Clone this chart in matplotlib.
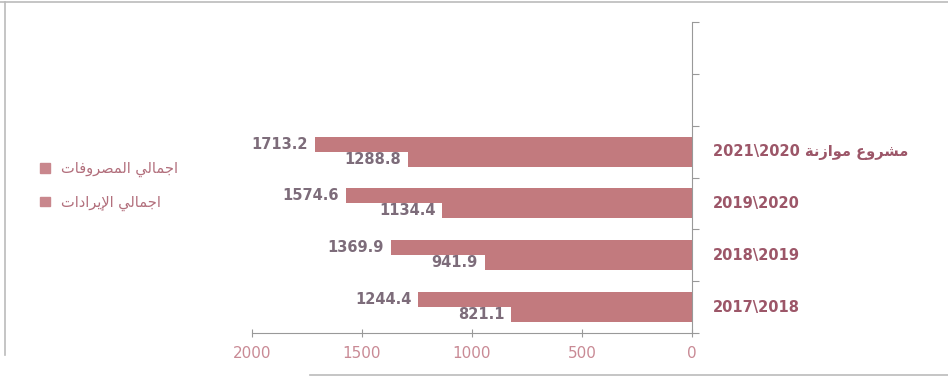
import matplotlib
matplotlib.use("Agg")
import matplotlib.pyplot as plt
from matplotlib.patches import Patch
from matplotlib.lines import Line2D
import numpy as np

# data
periods = ["2017\\2018", "2018\\2019", "2019\\2020", "2021\\2020"]
expenditures = [1244.4, 1369.9, 1574.6, 1713.2]
revenues = [821.1, 941.9, 1134.4, 1288.8]
budget_prefix = "مشروع موازنة"
legend_labels = ["اجمالي المصروفات", "اجمالي الإيرادات"]
xticks = [2000, 1500, 1000, 500, 0]

# very small arabic shaper (matplotlib does no shaping / bidi)
FORMS = {
    "ا": ("\uFE8D", "\uFE8E", None, None),
    "إ": ("\uFE87", "\uFE88", None, None),
    "ة": ("\uFE93", "\uFE94", None, None),
    "ت": ("\uFE95", "\uFE96", "\uFE97", "\uFE98"),
    "ج": ("\uFE9D", "\uFE9E", "\uFE9F", "\uFEA0"),
    "د": ("\uFEA9", "\uFEAA", None, None),
    "ر": ("\uFEAD", "\uFEAE", None, None),
    "ز": ("\uFEAF", "\uFEB0", None, None),
    "ش": ("\uFEB5", "\uFEB6", "\uFEB7", "\uFEB8"),
    "ص": ("\uFEB9", "\uFEBA", "\uFEBB", "\uFEBC"),
    "ع": ("\uFEC9", "\uFECA", "\uFECB", "\uFECC"),
    "ف": ("\uFED1", "\uFED2", "\uFED3", "\uFED4"),
    "ل": ("\uFEDD", "\uFEDE", "\uFEDF", "\uFEE0"),
    "م": ("\uFEE1", "\uFEE2", "\uFEE3", "\uFEE4"),
    "ن": ("\uFEE5", "\uFEE6", "\uFEE7", "\uFEE8"),
    "و": ("\uFEED", "\uFEEE", None, None),
    "ي": ("\uFEF1", "\uFEF2", "\uFEF3", "\uFEF4"),
}
LAM_ALEF = {"ا": ("\uFEFB", "\uFEFC"), "إ": ("\uFEF9", "\uFEFA")}


def shape(text):
    out = []
    i = 0
    n = len(text)
    while i < n:
        c = text[i]
        if c not in FORMS:
            out.append(c)
            i += 1
            continue
        prev = text[i - 1] if i > 0 else None
        joins_prev = prev in FORMS and FORMS[prev][2] is not None
        if c == "ل" and i + 1 < n and text[i + 1] in LAM_ALEF:
            iso, fin = LAM_ALEF[text[i + 1]]
            out.append(fin if joins_prev else iso)
            i += 2
            continue
        nxt = text[i + 1] if i + 1 < n else None
        joins_next = FORMS[c][2] is not None and nxt in FORMS
        iso, fin, ini, med = FORMS[c]
        if joins_prev and joins_next:
            out.append(med)
        elif joins_prev:
            out.append(fin)
        elif joins_next:
            out.append(ini)
        else:
            out.append(iso)
        i += 1
    return "".join(reversed(out))


cat_labels = periods[:-1] + [periods[-1] + " " + shape(budget_prefix)]

plt.rcParams['font.family'] = ['DejaVu Sans']

bar_color = '#c27a7e'
fig = plt.figure(figsize=(9.48, 3.81), dpi=100)
ax = fig.add_axes([252 / 948, 48 / 381, 440 / 948, 311 / 381])

y = np.arange(len(periods))
h = 0.29
ax.barh(y + h / 2, expenditures, height=h, color=bar_color)
ax.barh(y - h / 2, revenues, height=h, color=bar_color)

for yi, v in zip(y, expenditures):
    ax.annotate(f"{v:.1f}", (v, yi + h / 2), xytext=(-7, 0), textcoords='offset pixels',
                ha='right', va='center', fontsize=10.5, fontweight='bold', color='#7d6c7a')
for yi, v in zip(y, revenues):
    ax.annotate(f"{v:.1f}", (v, yi - h / 2), xytext=(-7, 0), textcoords='offset pixels',
                ha='right', va='center', fontsize=10.5, fontweight='bold', color='#7d6c7a')

for yi, lab in zip(y, cat_labels):
    ax.annotate(lab, (1.0, yi), xycoords=ax.get_yaxis_transform(), xytext=(21, 0),
                textcoords='offset pixels', ha='left', va='center',
                fontsize=10.5, fontweight='bold', color='#9c5668')

ax.set_xlim(2000, 0)
ax.set_ylim(-0.5, 5.5)
ax.set_xticks(xticks)
ax.set_xticklabels([str(t) for t in xticks], fontsize=11, color='#c98a95')
ax.tick_params(axis='x', direction='inout', length=6, color='#999999', pad=6)

ax.yaxis.tick_right()
ax.set_yticks(np.arange(-0.5, 6.0, 1.0))
ax.set_yticklabels([])
ax.tick_params(axis='y', direction='out', length=5, color='#999999')

for s in ['top', 'left']:
    ax.spines[s].set_visible(False)
ax.spines['bottom'].set_color('#999999')
ax.spines['right'].set_color('#999999')

handles = [Patch(color='#c9878d'), Patch(color='#c9878d')]
fig.legend(handles, [shape(t) for t in legend_labels], loc='center left',
           bbox_to_anchor=(27 / 948, 1 - 186 / 381), frameon=False,
           handlelength=0.65, handleheight=0.65, handletextpad=0.8,
           labelspacing=1.2, fontsize=10.5, labelcolor='#b26f7c')

# scan frame lines
fig.add_artist(Line2D([0, 1], [1 - 2 / 381, 1 - 2 / 381], color='#bbbbbb', lw=1.2))
fig.add_artist(Line2D([5 / 948, 5 / 948], [1 - 2 / 381, 1 - 355 / 381], color='#bbbbbb', lw=1.2))
fig.add_artist(Line2D([310 / 948, 1], [1 - 375 / 381, 1 - 375 / 381], color='#bbbbbb', lw=1.2))

fig.savefig('out.png', dpi=100)
